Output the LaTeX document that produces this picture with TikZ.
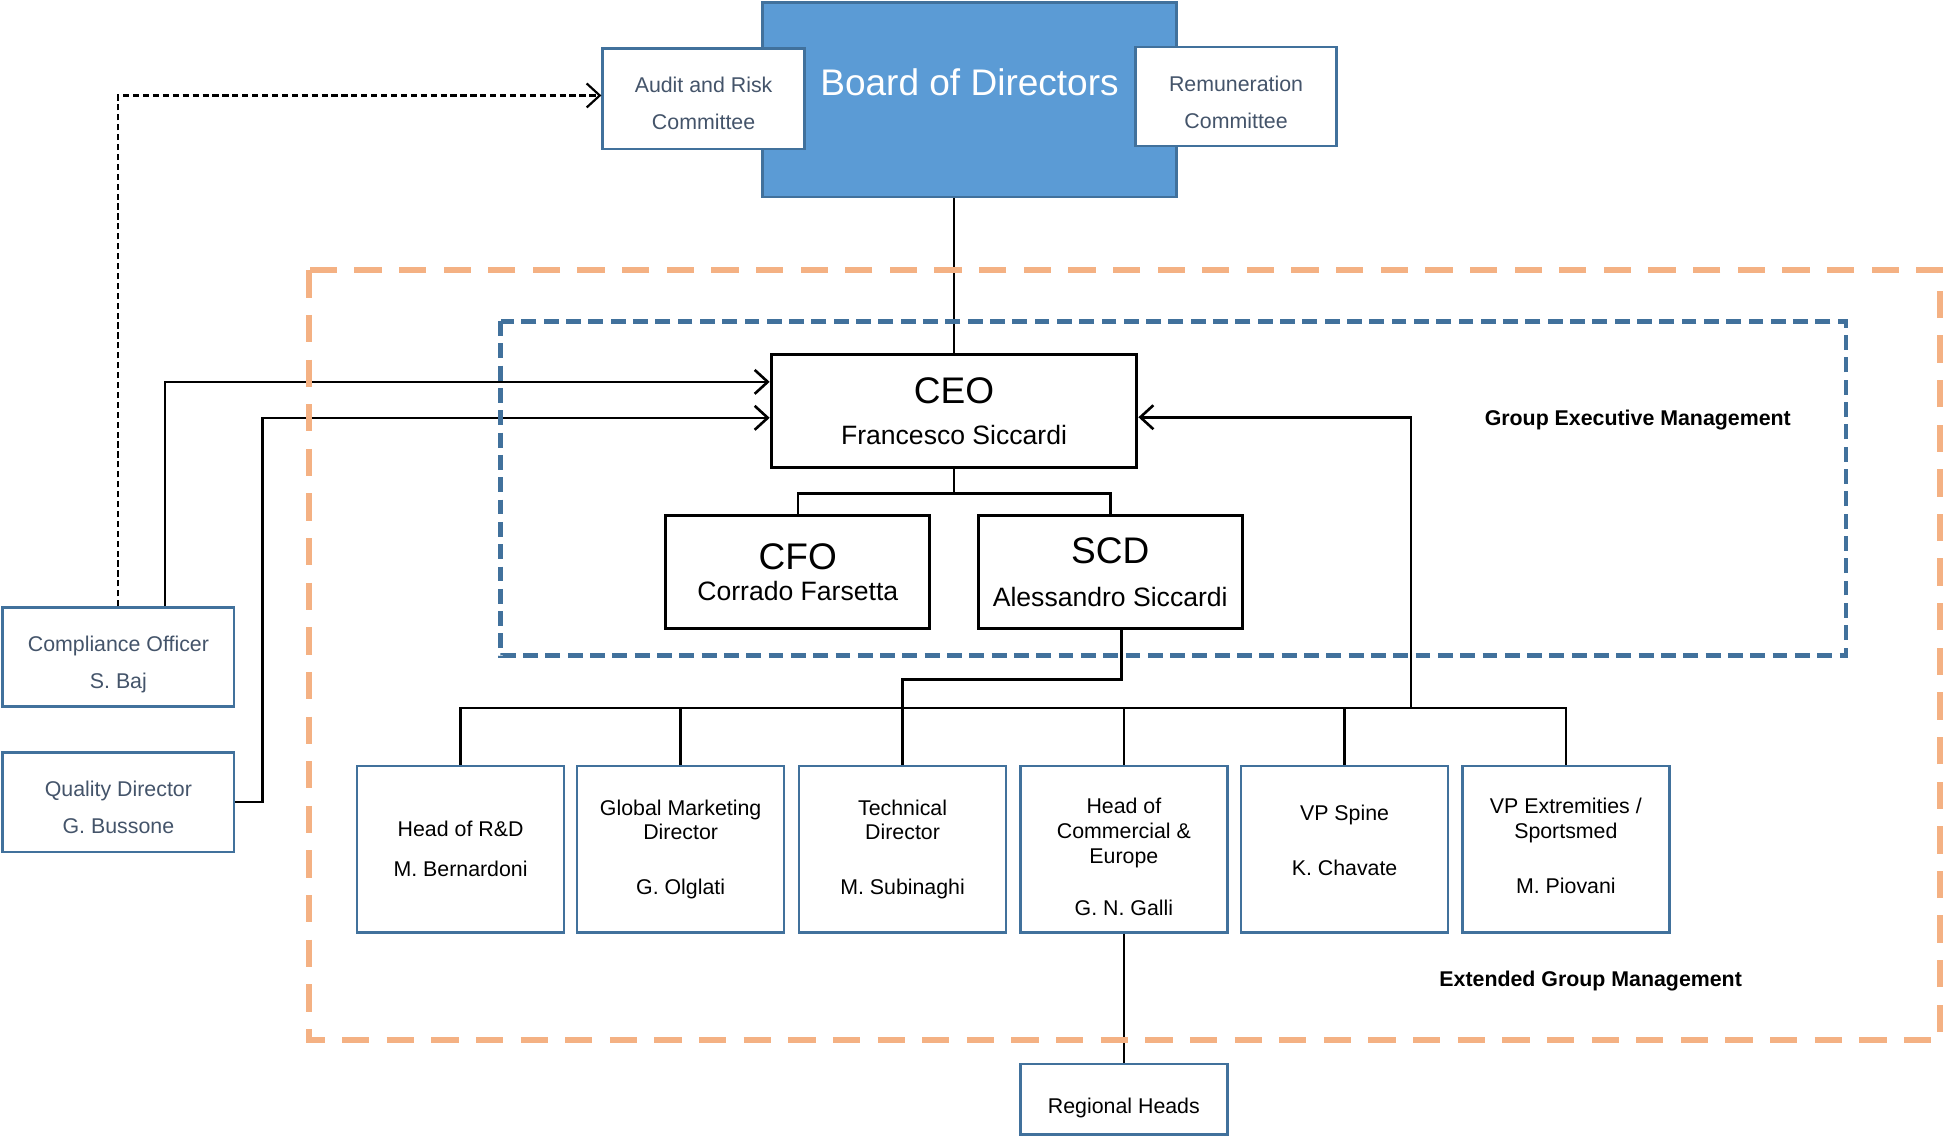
\documentclass[tikz,border=0pt]{standalone}
\usepackage{fontspec}
\setmainfont{Liberation Sans}
\usetikzlibrary{arrows.meta}
\definecolor{boardblue}{HTML}{5B9BD5}
\definecolor{frameblue}{HTML}{41719C}
\definecolor{slatetext}{HTML}{44546A}
\definecolor{extorange}{HTML}{F4B183}
\newcommand{\titlefont}{\fontsize{17}{20}\selectfont}
\newcommand{\toppad}[1]{\rule{0pt}{#1}}
\newcommand{\botpad}[1]{\rule[-#1]{0pt}{#1}}
\tikzset{%
  board/.style      = {shape=rectangle, draw=frameblue, fill=boardblue,%
                       line width=1.1pt, text=white, font=\titlefont,%
                       minimum width=6.68cm, minimum height=3.14cm,%
                       text height=0.45cm, text depth=0.59cm},%
  committee/.style  = {shape=rectangle, draw=frameblue, fill=white,%
                       line width=1.1pt, text=slatetext, align=center,%
                       font=\fontsize{9.8}{17}\selectfont,%
                       minimum width=3.26cm, minimum height=1.62cm},%
  staff/.style      = {committee, minimum width=3.74cm, minimum height=1.6cm},%
  exec/.style       = {shape=rectangle, draw, fill=white, line width=1.4pt,%
                       align=center, font=\fontsize{12.2}{14.6}\selectfont},%
  unit/.style       = {shape=rectangle, draw=frameblue, fill=white,%
                       line width=1.1pt, align=center,%
                       font=\fontsize{9.8}{11.4}\selectfont,%
                       minimum width=3.34cm, minimum height=2.68cm},%
  grouplabel/.style = {font=\bfseries\fontsize{9.8}{12}\selectfont},%
  extgroup/.style   = {draw=extorange, line width=2.8pt,%
                       dash pattern=on 0.44cm off 0.28cm},%
  execgroup/.style  = {draw=frameblue, line width=2.2pt,%
                       dash pattern=on 0.24cm off 0.12cm}%
}
\begin{document}
\begin{tikzpicture}[x=0.02cm,y=-0.02cm,line width=1.2pt,
	>={Straight Barb[length=6pt,width=11pt]},
	every node/.style = {inner sep=0pt}]
	\useasboundingbox (0,0) rectangle (1568,917);
	\node[board] (board) at (782,80.5) {Board of Directors};
	\node[committee] (audit) at (567.5,79.5) {\toppad{11.2pt}Audit and Risk\\Committee};
	\node[committee, minimum width=3.24cm, minimum height=1.6cm] (remun) at (997,78) {\toppad{12.3pt}Remuneration\\Committee};
	\node[exec, minimum width=5.9cm, minimum height=1.82cm] (ceo) at (769.5,331.5)
		{{\titlefont CEO}\\[4.4pt]Francesco Siccardi};
	\node[exec, minimum width=4.26cm, minimum height=1.82cm] (cfo) at (643.5,461.5)
		{{\titlefont CFO}\\Corrado Farsetta};
	\node[exec, minimum width=4.26cm, minimum height=1.82cm] (scd) at (895.5,461.5)
		{{\titlefont SCD}\\[5.4pt]Alessandro Siccardi};
	\node[grouplabel] (gem) at (1321,339) {Group Executive Management};
	\node[grouplabel] (egm) at (1283,791) {Extended Group Management};
	\node[unit] (rnd) at (371.5,685) {Head of R\&D\\[7pt]M. Bernardoni};
	\node[unit] (mkt) at (549,685) {Global Marketing\\Director\\[13.7pt]G. Olglati};
	\node[unit] (tech) at (728,685) {Technical\\Director\\[13.7pt]M. Subinaghi};
	\node[unit] (com) at (906.5,685) {\toppad{13.8pt}Head of\\Commercial \&\\Europe\\[12.5pt]G. N. Galli};
	\node[unit] (spine) at (1084.5,685) {VP Spine\\[13.7pt]K. Chavate\botpad{8pt}};
	\node[unit] (vpx) at (1263,685) {VP Extremities /\\Sportsmed\\[13.7pt]M. Piovani\botpad{3.4pt}};
	\node[unit, minimum height=1.14cm] (reg) at (906.5,886.5) {\toppad{15pt}Regional Heads};
	\node[staff] (comp) at (95.5,530) {\toppad{13.9pt}Compliance Officer\\S. Baj};
	\node[staff] (qual) at (95.5,647) {\toppad{12.3pt}Quality Director\\G. Bussone};
	\draw (board.south -| ceo.north) -- (ceo.north);
	\draw (ceo.south) -- ++(0,20) -| (cfo.north);
	\draw (ceo.south) -- ++(0,20) -| (scd.north);
	\draw ([xshift=0.18cm]scd.south) -- ++(0,40) -| (tech.north);
	\coordinate (bus) at (rnd.north |- 0,571);
	\draw (rnd.north) -- (bus) -- (bus -| vpx.north) -- (vpx.north);
	\foreach \unit in {mkt,com,spine}
		\draw (\unit.north) -- (\unit.north |- bus);
	\coordinate (feed) at (1138,571);
	\draw [->] (feed) |- ([yshift=-0.1cm]ceo.east);
	\draw [->] ([xshift=0.75cm]comp.north) |- ([yshift=0.47cm]ceo.west);
	\draw [->] (qual.east) -- ++(22,0) |- ([yshift=-0.11cm]ceo.west);
	\draw [->,line width=1pt,dash pattern=on 0.1cm off 0.06cm] (comp.north) |- ([yshift=0.05cm]audit.west);
	\draw (com.south) -- (reg.north);
	\draw[extgroup] (249,218) rectangle (1565,839);
	\draw[execgroup] (404,259) rectangle (1489,529);
\end{tikzpicture}
\end{document}
